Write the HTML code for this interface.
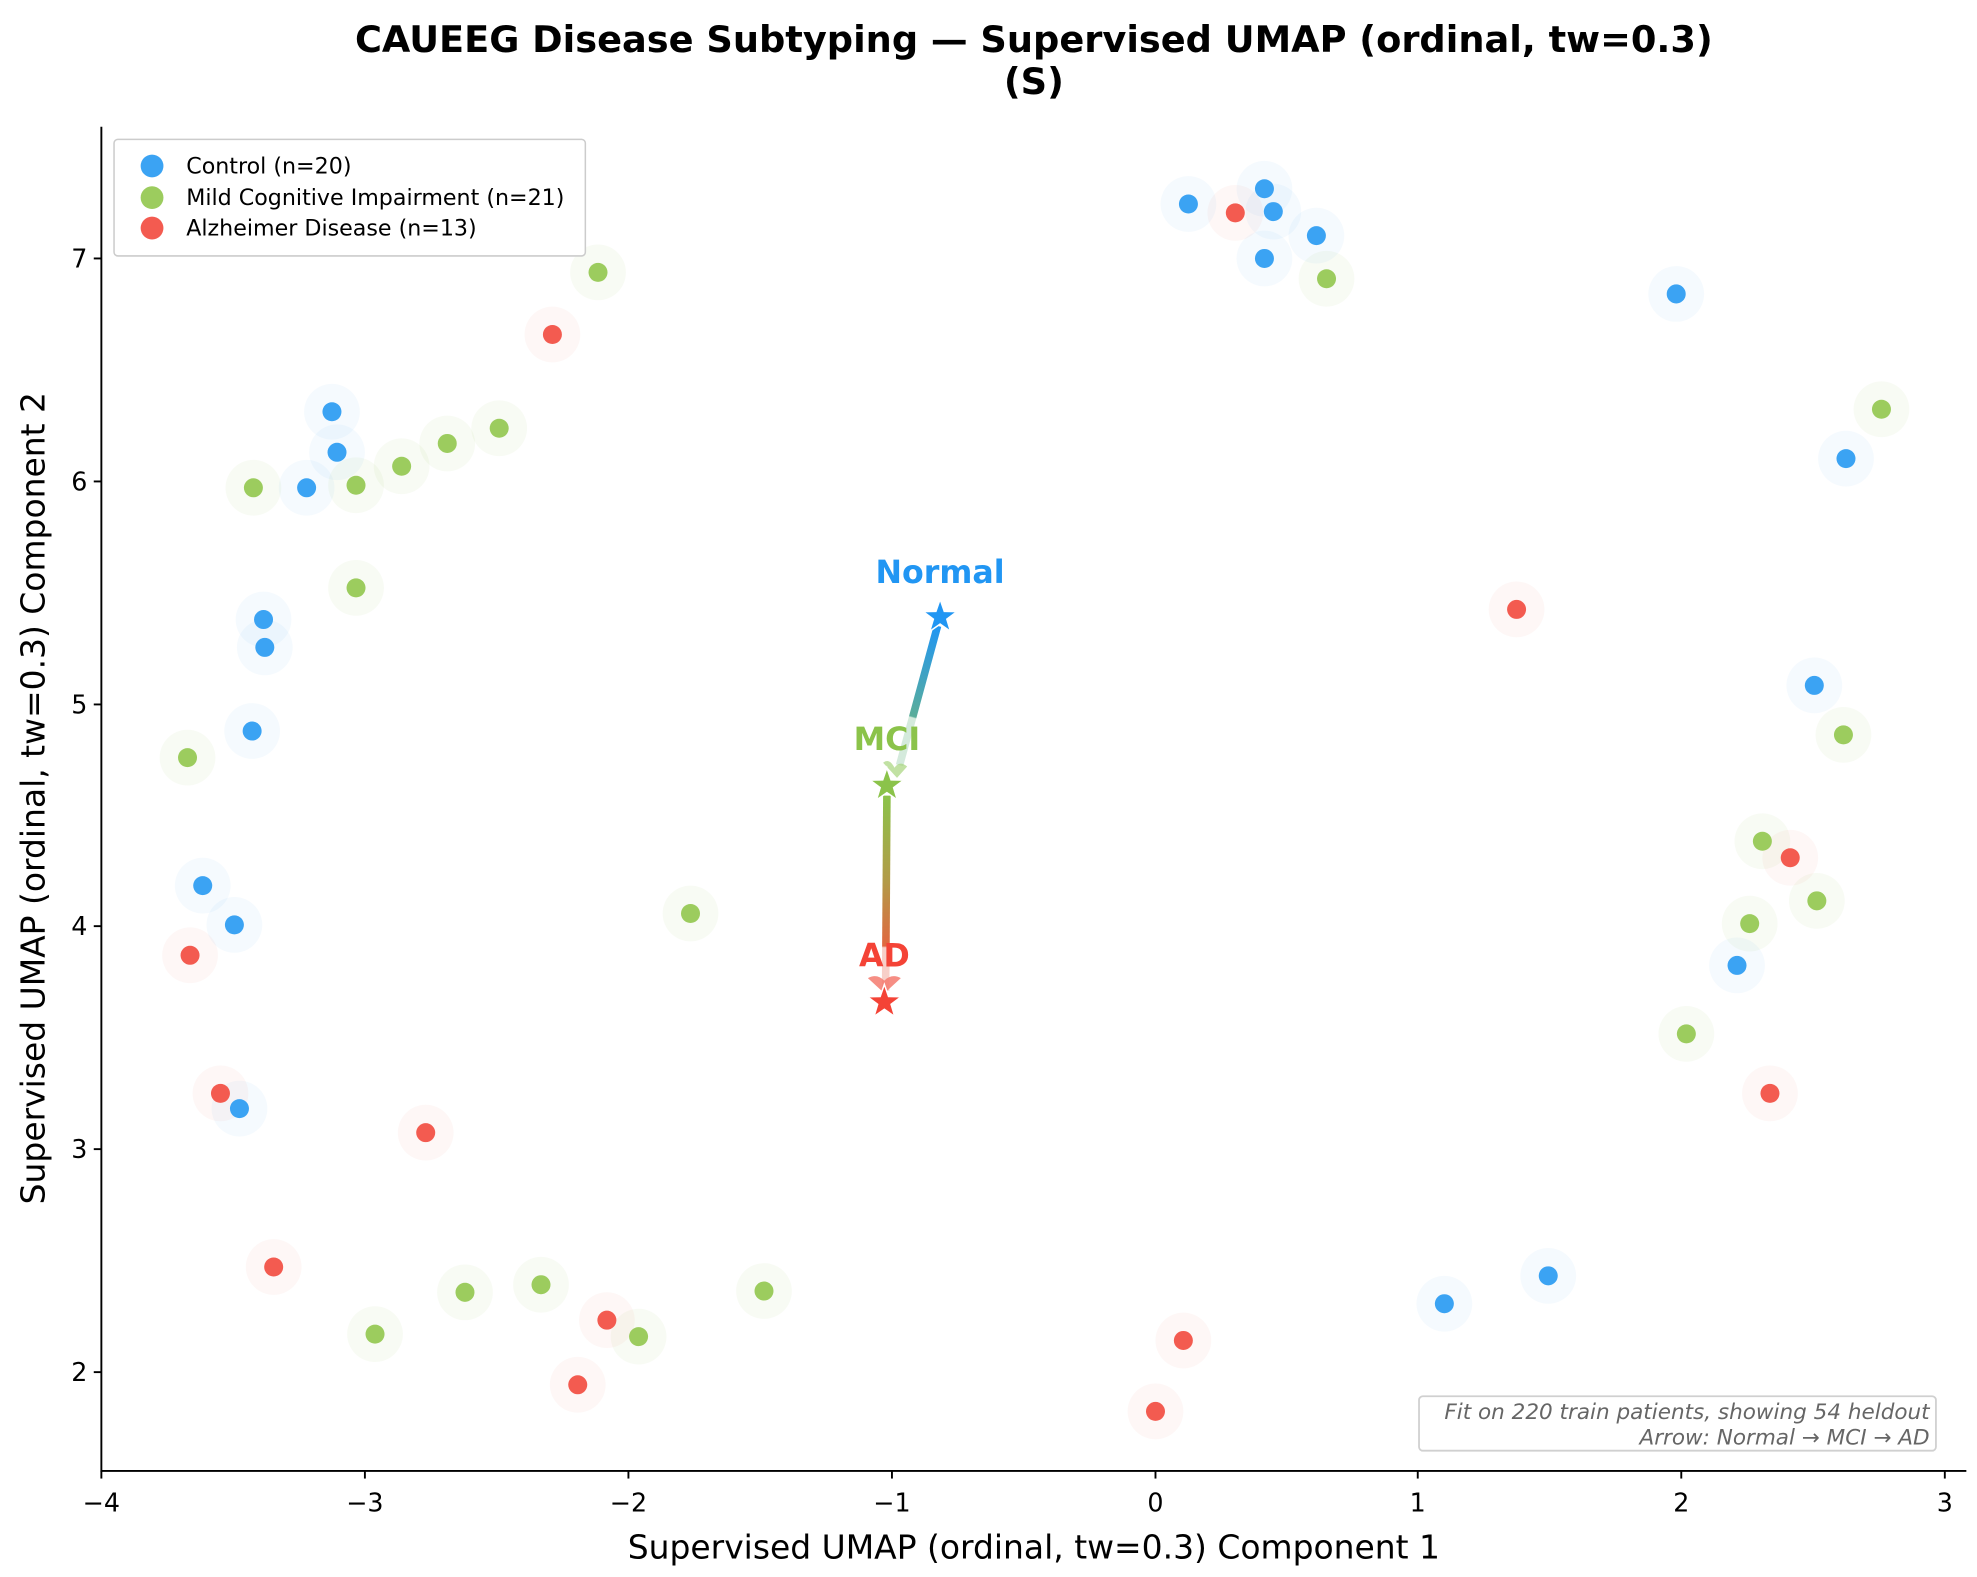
<!DOCTYPE html>
<html><head><meta charset="utf-8">
<style>
html,body{margin:0;padding:0;background:#fff;}
svg{display:block;}
text{font-family:"DejaVu Sans","Liberation Sans",sans-serif;}
</style></head>
<body>
<svg width="1977" height="1577" viewBox="0 0 1560.4 1244.7" xmlns="http://www.w3.org/2000/svg">
<defs>
<linearGradient id="g1" gradientUnits="userSpaceOnUse" x1="740" y1="494" x2="710" y2="604">
<stop offset="0" stop-color="#2196f3"/><stop offset="0.65" stop-color="#5aad9a"/><stop offset="0.66" stop-color="#d4eadc"/><stop offset="1" stop-color="#d4eadc"/>
</linearGradient>
<linearGradient id="g2" gradientUnits="userSpaceOnUse" x1="700" y1="628" x2="699" y2="780">
<stop offset="0" stop-color="#8bc34a"/><stop offset="0.45" stop-color="#b39a48"/><stop offset="0.78" stop-color="#e06840"/><stop offset="0.79" stop-color="#f7cfc8"/><stop offset="1" stop-color="#f7cfc8"/>
</linearGradient>
<polygon id="star" points="0,-14 3.3,-4.5 13.3,-4.3 5.3,1.7 8.2,11.3 0,5.6 -8.2,11.3 -5.3,1.7 -13.3,-4.3 -3.3,-4.5"/>
</defs>
<rect width="1560.4" height="1244.7" fill="#fff"/>
<text x="816" y="41" text-anchor="middle" font-size="29" font-weight="bold">CAUEEG Disease Subtyping — Supervised UMAP (ordinal, tw=0.3)</text>
<text x="816" y="74" text-anchor="middle" font-size="29" font-weight="bold">(S)</text>

<g fill="#3ba3f3" fill-opacity="0.05">
<circle cx="938" cy="161" r="22"/><circle cx="998" cy="149" r="22"/><circle cx="1005" cy="167" r="22"/><circle cx="1039" cy="186" r="22"/><circle cx="998" cy="204" r="22"/><circle cx="1323" cy="232" r="22"/><circle cx="1457" cy="362" r="22"/><circle cx="1432" cy="541" r="22"/><circle cx="1371" cy="762" r="22"/><circle cx="1222" cy="1007" r="22"/><circle cx="1140" cy="1029" r="22"/><circle cx="262" cy="325" r="22"/><circle cx="266" cy="357" r="22"/><circle cx="242" cy="385" r="22"/><circle cx="208" cy="489" r="22"/><circle cx="209" cy="511" r="22"/><circle cx="199" cy="577" r="22"/><circle cx="160" cy="699" r="22"/><circle cx="185" cy="730" r="22"/><circle cx="189" cy="875" r="22"/>
</g>
<g fill="#9ccc5e" fill-opacity="0.07">
<circle cx="472" cy="215" r="22"/><circle cx="1047" cy="220" r="22"/><circle cx="1485" cy="323" r="22"/><circle cx="394" cy="338" r="22"/><circle cx="353" cy="350" r="22"/><circle cx="317" cy="368" r="22"/><circle cx="281" cy="383" r="22"/><circle cx="200" cy="385" r="22"/><circle cx="281" cy="464" r="22"/><circle cx="148" cy="598" r="22"/><circle cx="1455" cy="580" r="22"/><circle cx="1391" cy="664" r="22"/><circle cx="1434" cy="711" r="22"/><circle cx="1381" cy="729" r="22"/><circle cx="1331" cy="816" r="22"/><circle cx="545" cy="721" r="22"/><circle cx="603" cy="1019" r="22"/><circle cx="427" cy="1014" r="22"/><circle cx="367" cy="1020" r="22"/><circle cx="296" cy="1053" r="22"/><circle cx="504" cy="1055" r="22"/>
</g>
<g fill="#f35b50" fill-opacity="0.05">
<circle cx="975" cy="168" r="22"/><circle cx="436" cy="264" r="22"/><circle cx="1197" cy="481" r="22"/><circle cx="1413" cy="677" r="22"/><circle cx="150" cy="754" r="22"/><circle cx="174" cy="863" r="22"/><circle cx="1397" cy="863" r="22"/><circle cx="336" cy="894" r="22"/><circle cx="216" cy="1000" r="22"/><circle cx="479" cy="1042" r="22"/><circle cx="456" cy="1093" r="22"/><circle cx="934" cy="1058" r="22"/><circle cx="912" cy="1114" r="22"/>
</g>
<g fill="#3ba3f3">
<circle cx="938" cy="161" r="7.5"/><circle cx="998" cy="149" r="7.5"/><circle cx="1005" cy="167" r="7.5"/><circle cx="1039" cy="186" r="7.5"/><circle cx="998" cy="204" r="7.5"/><circle cx="1323" cy="232" r="7.5"/><circle cx="1457" cy="362" r="7.5"/><circle cx="1432" cy="541" r="7.5"/><circle cx="1371" cy="762" r="7.5"/><circle cx="1222" cy="1007" r="7.5"/><circle cx="1140" cy="1029" r="7.5"/><circle cx="262" cy="325" r="7.5"/><circle cx="266" cy="357" r="7.5"/><circle cx="242" cy="385" r="7.5"/><circle cx="208" cy="489" r="7.5"/><circle cx="209" cy="511" r="7.5"/><circle cx="199" cy="577" r="7.5"/><circle cx="160" cy="699" r="7.5"/><circle cx="185" cy="730" r="7.5"/><circle cx="189" cy="875" r="7.5"/>
</g>
<g fill="#9ccc5e">
<circle cx="472" cy="215" r="7.5"/><circle cx="1047" cy="220" r="7.5"/><circle cx="1485" cy="323" r="7.5"/><circle cx="394" cy="338" r="7.5"/><circle cx="353" cy="350" r="7.5"/><circle cx="317" cy="368" r="7.5"/><circle cx="281" cy="383" r="7.5"/><circle cx="200" cy="385" r="7.5"/><circle cx="281" cy="464" r="7.5"/><circle cx="148" cy="598" r="7.5"/><circle cx="1455" cy="580" r="7.5"/><circle cx="1391" cy="664" r="7.5"/><circle cx="1434" cy="711" r="7.5"/><circle cx="1381" cy="729" r="7.5"/><circle cx="1331" cy="816" r="7.5"/><circle cx="545" cy="721" r="7.5"/><circle cx="603" cy="1019" r="7.5"/><circle cx="427" cy="1014" r="7.5"/><circle cx="367" cy="1020" r="7.5"/><circle cx="296" cy="1053" r="7.5"/><circle cx="504" cy="1055" r="7.5"/>
</g>
<g fill="#f35b50">
<circle cx="975" cy="168" r="7.5"/><circle cx="436" cy="264" r="7.5"/><circle cx="1197" cy="481" r="7.5"/><circle cx="1413" cy="677" r="7.5"/><circle cx="150" cy="754" r="7.5"/><circle cx="174" cy="863" r="7.5"/><circle cx="1397" cy="863" r="7.5"/><circle cx="336" cy="894" r="7.5"/><circle cx="216" cy="1000" r="7.5"/><circle cx="479" cy="1042" r="7.5"/><circle cx="456" cy="1093" r="7.5"/><circle cx="934" cy="1058" r="7.5"/><circle cx="912" cy="1114" r="7.5"/>
</g>

<line x1="740" y1="494" x2="710" y2="604" stroke="url(#g1)" stroke-width="6"/>
<path d="M697,602 Q702,598 706,606 Q710,600 716,605 L708,614 Z" fill="#a6d47c" opacity="0.7"/>
<line x1="700" y1="628" x2="699" y2="782" stroke="url(#g2)" stroke-width="6"/>
<path d="M685,772 Q692,768 698,774 Q704,768 711,772 L698,784 Z" fill="#f47a6e" opacity="0.85"/>
<g stroke="#fff" stroke-width="1.2">
<use href="#star" x="742" y="487" fill="#2196f3"/>
<use href="#star" x="700" y="620" fill="#8bc34a"/>
<use href="#star" x="698" y="791" fill="#f44336"/>
</g>
<text x="742" y="460" text-anchor="middle" font-size="25" font-weight="bold" fill="#2196f3">Normal</text>
<text x="700" y="592" text-anchor="middle" font-size="25" font-weight="bold" fill="#8bc34a">MCI</text>
<text x="698" y="763" text-anchor="middle" font-size="25" font-weight="bold" fill="#f44336">AD</text>

<g stroke="#000" stroke-width="1.5" fill="none">
<line x1="80" y1="100" x2="80" y2="1161.7"/>
<line x1="79.3" y1="1161" x2="1552" y2="1161"/>
<line x1="80" y1="1161" x2="80" y2="1167"/><line x1="288" y1="1161" x2="288" y2="1167"/><line x1="496" y1="1161" x2="496" y2="1167"/><line x1="704" y1="1161" x2="704" y2="1167"/><line x1="912" y1="1161" x2="912" y2="1167"/><line x1="1119" y1="1161" x2="1119" y2="1167"/><line x1="1327" y1="1161" x2="1327" y2="1167"/><line x1="1535" y1="1161" x2="1535" y2="1167"/>
<line x1="74" y1="204" x2="80" y2="204"/><line x1="74" y1="380" x2="80" y2="380"/><line x1="74" y1="556" x2="80" y2="556"/><line x1="74" y1="731" x2="80" y2="731"/><line x1="74" y1="907" x2="80" y2="907"/><line x1="74" y1="1083" x2="80" y2="1083"/>
</g>
<g font-size="20" fill="#000" text-anchor="middle">
<text x="80" y="1193">−4</text><text x="288" y="1193">−3</text><text x="496" y="1193">−2</text><text x="704" y="1193">−1</text><text x="912" y="1193">0</text><text x="1119" y="1193">1</text><text x="1327" y="1193">2</text><text x="1535" y="1193">3</text>
</g>
<g font-size="20" fill="#000" text-anchor="end">
<text x="69" y="211">7</text><text x="69" y="387">6</text><text x="69" y="563">5</text><text x="69" y="738">4</text><text x="69" y="914">3</text><text x="69" y="1090">2</text>
</g>
<text x="816" y="1230" text-anchor="middle" font-size="26">Supervised UMAP (ordinal, tw=0.3) Component 1</text>
<text transform="translate(35,630) rotate(-90)" text-anchor="middle" font-size="26">Supervised UMAP (ordinal, tw=0.3) Component 2</text>

<rect x="90" y="110" width="372" height="92" rx="3" fill="#fff" fill-opacity="0.9" stroke="#ccc" stroke-width="1.2"/>
<circle cx="120" cy="131" r="9" fill="#3ba3f3"/>
<circle cx="120" cy="156" r="9" fill="#9ccc5e"/>
<circle cx="120" cy="180" r="9" fill="#f35b50"/>
<g font-size="17.5" fill="#000">
<text x="147" y="137">Control (n=20)</text>
<text x="147" y="162">Mild Cognitive Impairment (n=21)</text>
<text x="147" y="186">Alzheimer Disease (n=13)</text>
</g>

<rect x="1120" y="1102" width="408" height="43" rx="3" fill="#fff" stroke="#d0d0d0" stroke-width="1.4"/>
<g font-size="17" font-style="italic" fill="#666" text-anchor="end">
<text x="1523" y="1120">Fit on 220 train patients, showing 54 heldout</text>
<text x="1523" y="1140">Arrow: Normal → MCI → AD</text>
</g>
</svg>
</body></html>
